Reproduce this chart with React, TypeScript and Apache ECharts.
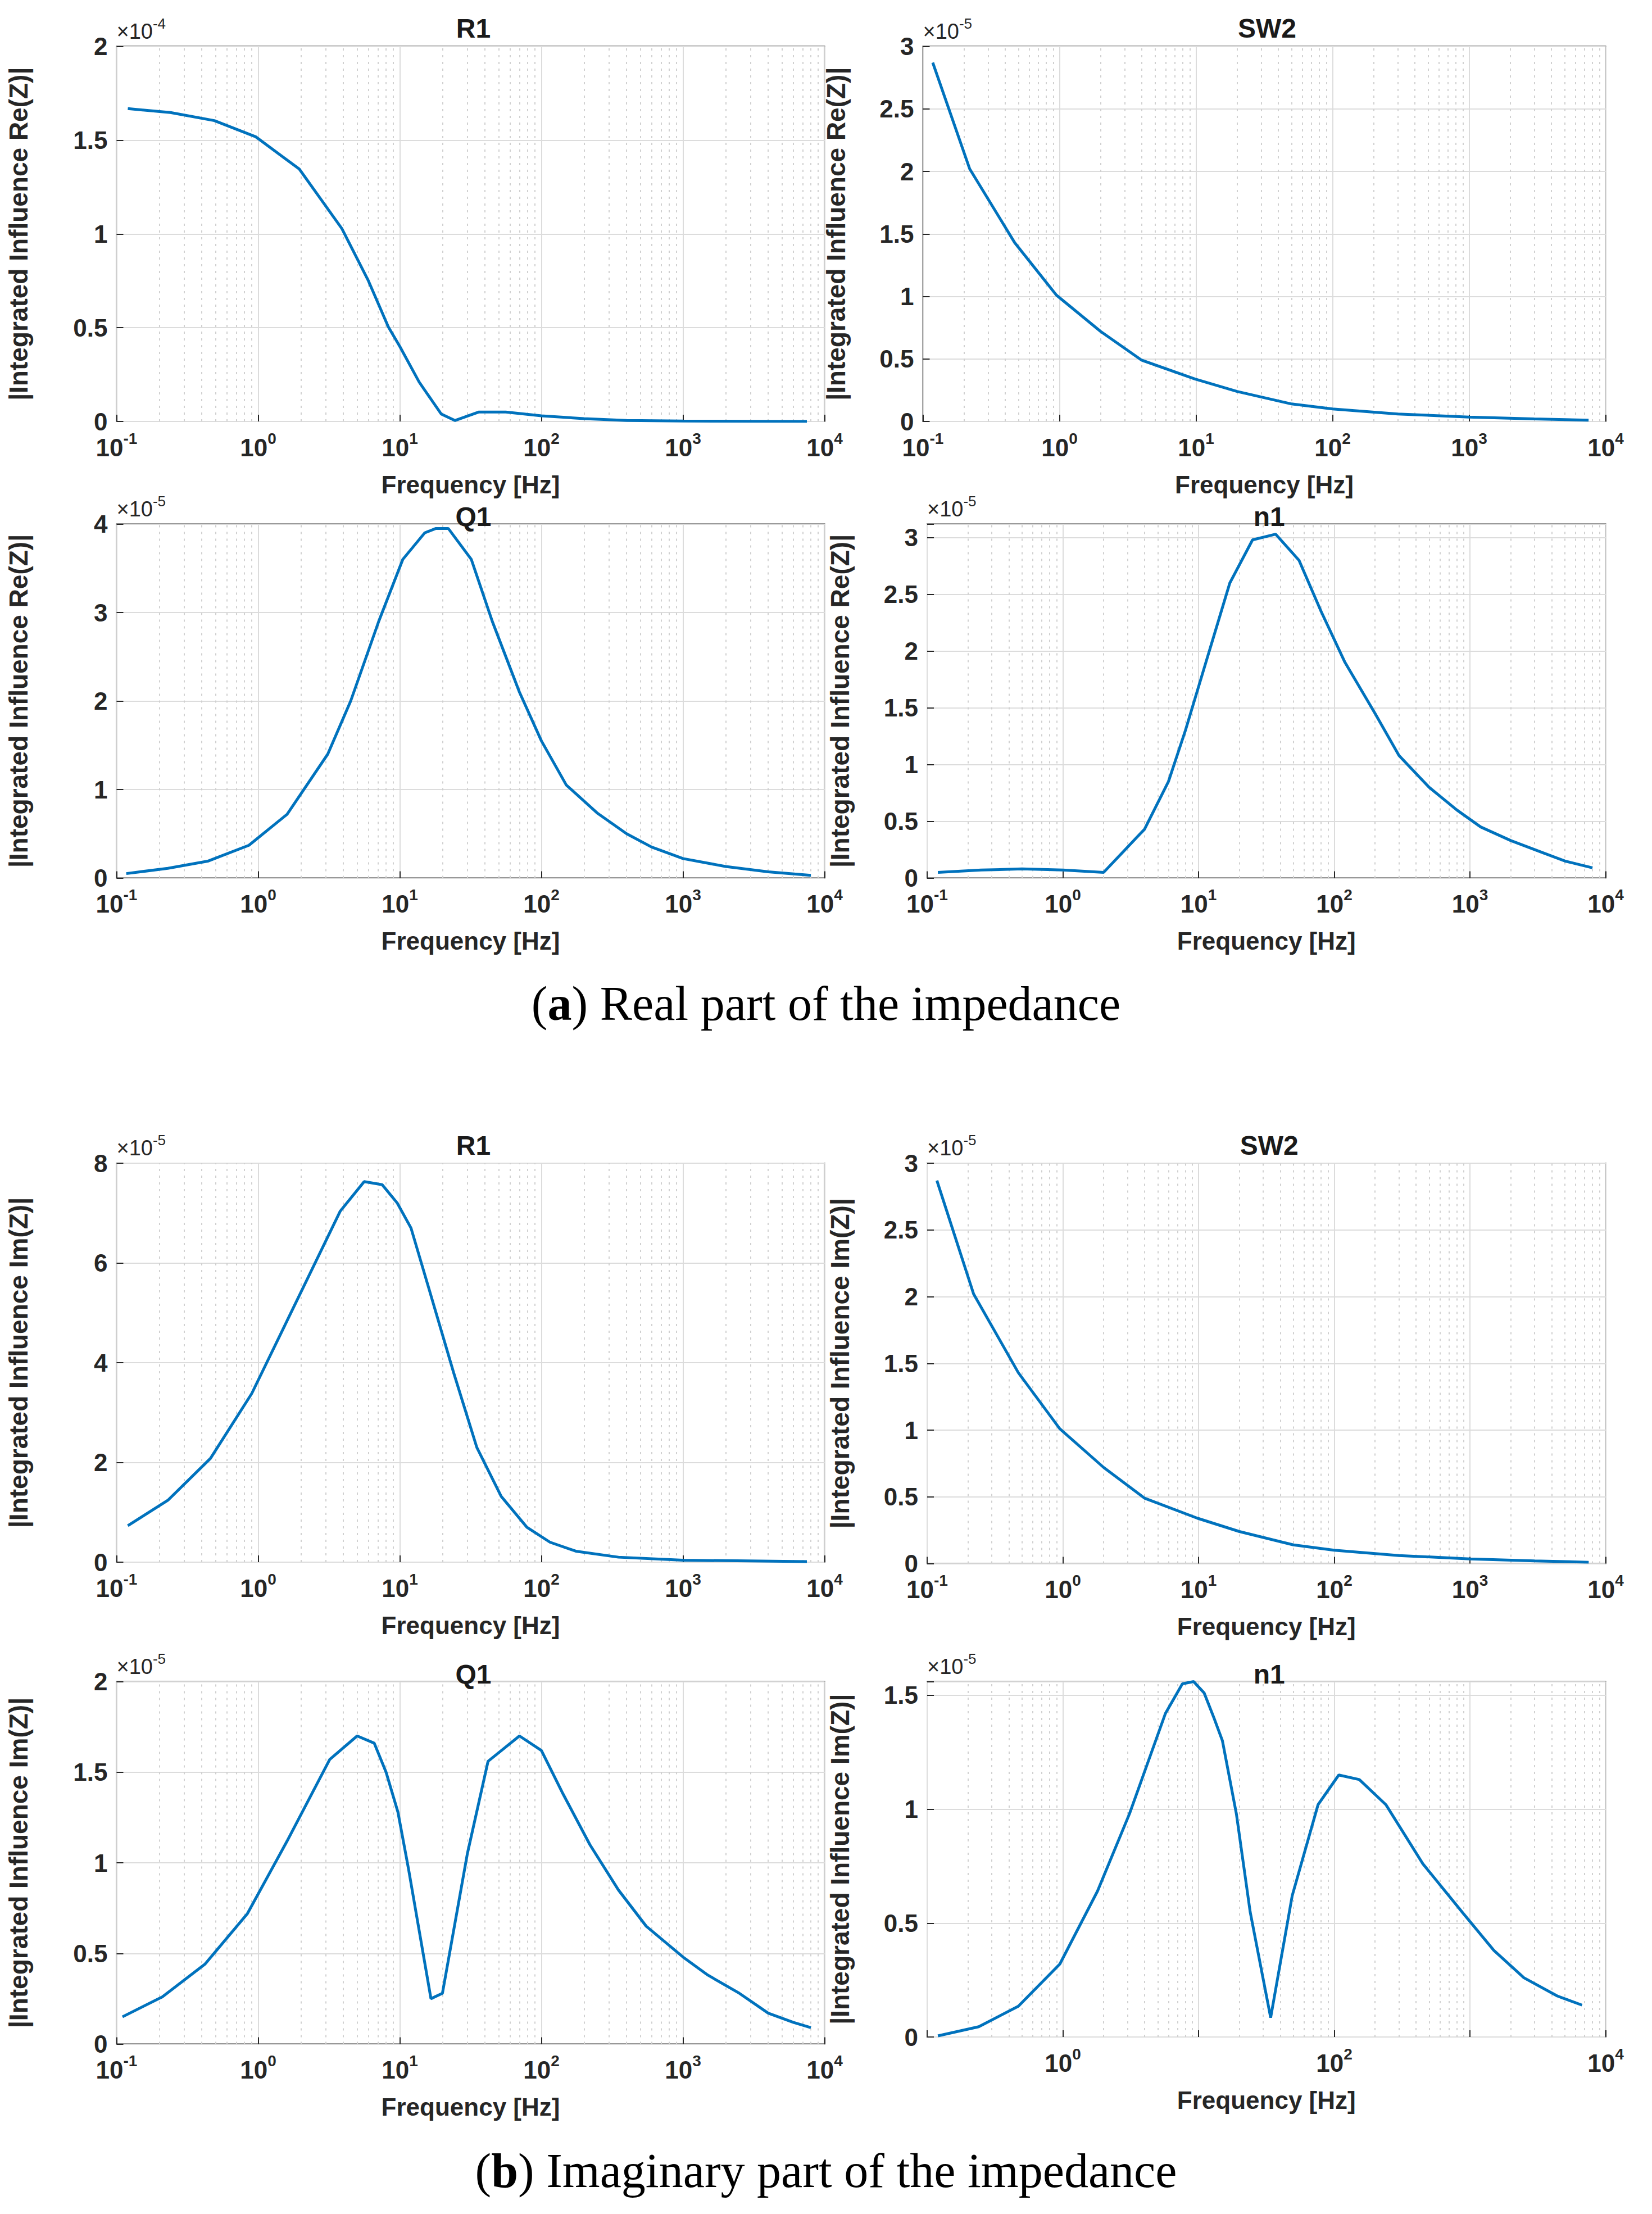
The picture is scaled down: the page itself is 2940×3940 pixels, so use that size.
import React, { useEffect, useRef } from "react";
import * as echarts from "echarts";

const R1reF = [0.12, 0.24, 0.49, 0.96, 1.95, 3.9, 6, 8.3, 10, 13.7, 19.6, 24.5, 36, 56, 100, 200, 400, 1000, 3000, 7500];
const R1reV = [1.668, 1.647, 1.604, 1.518, 1.346, 1.028, 0.75, 0.504, 0.4, 0.21, 0.04, 0.005, 0.05, 0.05, 0.03, 0.015, 0.005, 0.002, 0.001, 0.0];
const SW2F = [0.118, 0.22, 0.47, 0.95, 2, 4, 9.8, 20, 50, 100, 300, 1000, 3000, 7500];
const SW2V = [2.87, 2.02, 1.43, 1.01, 0.72, 0.49, 0.34, 0.24, 0.14, 0.1, 0.06, 0.035, 0.02, 0.01];
const Q1reF = [0.117, 0.23, 0.44, 0.86, 1.6, 3.1, 4.5, 7.1, 10.5, 15, 18, 22, 32, 45, 70, 100, 150, 250, 400, 600, 1000, 2000, 4000, 8000];
const Q1reV = [0.05, 0.11, 0.19, 0.37, 0.72, 1.4, 2.0, 2.9, 3.6, 3.9, 3.95, 3.95, 3.6, 2.9, 2.1, 1.55, 1.05, 0.73, 0.5, 0.35, 0.22, 0.13, 0.07, 0.03];
const n1reF = [0.12, 0.25, 0.5, 1, 2, 4, 6, 8, 12, 17, 25, 37, 55, 80, 120, 200, 300, 500, 800, 1200, 2000, 3500, 5000, 8000];
const n1reV = [0.05, 0.07, 0.08, 0.07, 0.05, 0.43, 0.85, 1.3, 2.0, 2.6, 2.98, 3.03, 2.8, 2.35, 1.9, 1.45, 1.08, 0.8, 0.6, 0.45, 0.33, 0.22, 0.15, 0.09];
const R1imF = [0.12, 0.23, 0.46, 0.9, 3.8, 5.6, 7.5, 9.6, 12, 16, 24, 35, 52, 79, 115, 175, 350, 1000, 7500];
const R1imV = [0.73, 1.24, 2.08, 3.38, 7.04, 7.63, 7.57, 7.2, 6.7, 5.5, 3.8, 2.3, 1.32, 0.7, 0.4, 0.22, 0.1, 0.04, 0.01];
const Q1imF = [0.11, 0.21, 0.42, 0.84, 1.6, 3.2, 5, 6.6, 8, 9.7, 11.5, 16.6, 20, 30, 42, 70, 100, 140, 220, 350, 550, 1000, 1500, 2500, 4000, 6000, 8000];
const Q1imV = [0.15, 0.26, 0.44, 0.72, 1.12, 1.57, 1.7, 1.66, 1.5, 1.28, 0.97, 0.25, 0.28, 1.05, 1.56, 1.7, 1.62, 1.39, 1.1, 0.85, 0.65, 0.48, 0.38, 0.28, 0.17, 0.12, 0.09];
const n1imF = [0.12, 0.24, 0.47, 0.95, 1.8, 3.1, 5.7, 7.6, 9.2, 11, 13, 15, 19, 24, 34, 49, 76, 108, 153, 240, 450, 900, 1500, 2500, 4400, 6700];
const n1imV = [0.005, 0.045, 0.135, 0.32, 0.64, 0.98, 1.42, 1.55, 1.56, 1.51, 1.4, 1.3, 0.98, 0.55, 0.085, 0.62, 1.02, 1.15, 1.13, 1.02, 0.76, 0.54, 0.38, 0.26, 0.18, 0.14];

const MINOR = [2, 3, 4, 5, 6, 7, 8, 9];
const DECADES = [0.1, 1, 10, 100, 1000];

const S = 2.5;
const panels = [
  { title: "R1", f: R1reF, v: R1reV, max: 2, iv: 0.5, exp: "-4", yl: "|Integrated Influence Re(Z)|", box: [83, 33, 587, 300], even: false, tg: 61 },
  { title: "SW2", f: SW2F, v: SW2V, max: 3, iv: 0.5, exp: "-5", yl: "|Integrated Influence Re(Z)|", box: [657, 33, 1143, 300], even: false, tg: 61 },
  { title: "Q1", f: Q1reF, v: Q1reV, max: 4, iv: 1, exp: "-5", yl: "|Integrated Influence Re(Z)|", box: [83, 373, 587, 625], even: false, tg: 42 },
  { title: "n1", f: n1reF, v: n1reV, max: 3.12, iv: 0.5, exp: "-5", yl: "|Integrated Influence Re(Z)|", box: [660, 373, 1143, 625], even: false, tg: 42 },
  { title: "R1", f: R1imF, v: R1imV, max: 8, iv: 2, exp: "-5", yl: "|Integrated Influence Im(Z)|", box: [83, 828, 587, 1112], even: false, tg: 61 },
  { title: "SW2", f: SW2F, v: SW2V, max: 3, iv: 0.5, exp: "-5", yl: "|Integrated Influence Im(Z)|", box: [660, 828, 1143, 1113], even: false, tg: 61 },
  { title: "Q1", f: Q1imF, v: Q1imV, max: 2, iv: 0.5, exp: "-5", yl: "|Integrated Influence Im(Z)|", box: [83, 1197, 587, 1455], even: false, tg: 42 },
  { title: "n1", f: n1imF, v: n1imV, max: 1.56, iv: 0.5, exp: "-5", yl: "|Integrated Influence Im(Z)|", box: [660, 1197, 1143, 1450], even: true, tg: 42 },
];

const FONT = "Liberation Sans";

export default function App() {
  const ref = useRef<HTMLDivElement>(null);
  useEffect(() => {
    document.body.style.margin = "0";
    const chart = echarts.init(ref.current!, null, { renderer: "svg" });
    const grid: any[] = [], xAxis: any[] = [], yAxis: any[] = [], series: any[] = [], title: any[] = [], graphic: any[] = [];
    panels.forEach((p, i) => {
      const [l, t, r, b] = p.box.map((d) => d * S);
      grid.push({ left: l, top: t, width: r - l, height: b - t, show: true, borderColor: "#262626", borderWidth: 2, backgroundColor: "#fff" });
      xAxis.push({
        type: "log", gridIndex: i, min: 0.1, max: 10000, logBase: 10,
        name: "Frequency [Hz]", nameLocation: "middle", nameGap: 90,
        nameTextStyle: { fontFamily: FONT, fontWeight: "bold", fontSize: 44, color: "#262626" },
        axisLine: { show: false }, axisTick: { inside: true, length: 12, lineStyle: { color: "#262626", width: 2 } },
        splitLine: { show: true, lineStyle: { color: "#dcdcdc", width: 2 } },
        axisLabel: {
          margin: 16,
          formatter: (v: number) => {
            const e = Math.round(Math.log10(v));
            if (p.even && e % 2 !== 0) return "";
            return `{b|10}{s|${e}}`;
          },
          rich: {
            b: { fontFamily: FONT, fontWeight: "bold", fontSize: 44, color: "#262626", verticalAlign: "bottom" },
            s: { fontFamily: FONT, fontWeight: "bold", fontSize: 28, color: "#262626", verticalAlign: "top", padding: [0, 0, 24, 0] },
          },
        },
      });
      yAxis.push({
        type: "value", gridIndex: i, min: 0, max: p.max, interval: p.iv,
        name: p.yl, nameLocation: "middle", nameGap: i % 2 === 0 ? 152 : 132,
        nameTextStyle: { fontFamily: FONT, fontWeight: "bold", fontSize: 46, color: "#262626", letterSpacing: 5 },
        axisLine: { show: false }, axisTick: { inside: true, length: 12, lineStyle: { color: "#262626", width: 2 } },
        splitLine: { show: true, lineStyle: { color: "#dcdcdc", width: 2 } },
        axisLabel: {
          margin: 16, fontFamily: FONT, fontWeight: "bold", fontSize: 44, color: "#262626",
          formatter: (v: number) => (Math.abs(v / p.iv - Math.round(v / p.iv)) < 1e-6 ? String(+v.toFixed(2)) : ""),
        },
      });
      const minorData: any[] = [];
      DECADES.forEach((d) => MINOR.forEach((m) => minorData.push({ xAxis: d * m })));
      series.push({
        type: "line", xAxisIndex: i, yAxisIndex: i, showSymbol: false,
        data: p.f.map((f, k) => [f, p.v[k]]),
        lineStyle: { color: "#0072BD", width: 5 }, z: 5,
        markLine: {
          silent: true, symbol: "none", label: { show: false },
          lineStyle: { color: "#d0d0d0", type: [4, 8], width: 2 },
          data: minorData, z: 1,
        },
      });
      title.push({
        text: p.title, left: (l + r) / 2, top: t - p.tg, textAlign: "center",
        textStyle: { fontFamily: FONT, fontWeight: "bold", fontSize: 48, color: "#1a1a1a" },
      });
      graphic.push({
        type: "text", left: l, top: t - 54,
        style: {
          text: `{x|×10}{s|${p.exp}}`,
          rich: {
            x: { fontFamily: FONT, fontSize: 38, fill: "#262626", verticalAlign: "bottom" },
            s: { fontFamily: FONT, fontSize: 26, fill: "#262626", verticalAlign: "top", padding: [0, 0, 20, 0] },
          },
        },
      });
    });
    const cap = (t: string, top: number) => ({
      type: "text", left: "center", top: top * S,
      style: { text: `{p|(}{b|${t[0]}}{p|) ${t.slice(1)}}`, rich: { p: { fontFamily: "Liberation Serif", fontSize: 86, fill: "#000" }, b: { fontFamily: "Liberation Serif", fontSize: 86, fontWeight: "bold", fill: "#000" } } },
    });
    graphic.push(cap("aReal part of the impedance", 697));
    graphic.push(cap("bImaginary part of the impedance", 1528));
    chart.setOption({ animation: false, backgroundColor: "#fff", grid, xAxis, yAxis, series, title, graphic });
    return () => chart.dispose();
  }, []);
  return <div ref={ref} style={{ width: 2940, height: 3940 }} />;
}
